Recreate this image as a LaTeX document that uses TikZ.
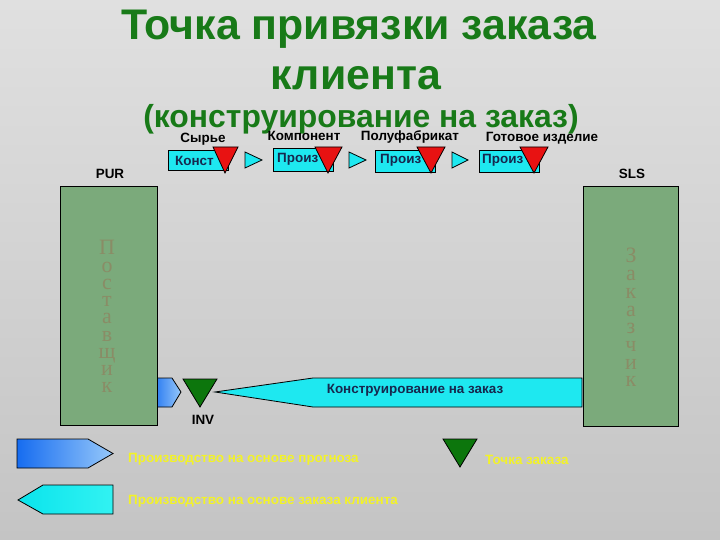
\documentclass[tikz,border=0pt]{standalone}
\usepackage{fontspec}
\setmainfont{Liberation Sans}
\newfontfamily\serifcyr{Liberation Serif}
\definecolor{titlegreen}{RGB}{24,122,24}
\definecolor{boxgreen}{RGB}{123,170,123}
\definecolor{cyanfill}{RGB}{30,232,240}
\definecolor{redfill}{RGB}{232,18,18}
\definecolor{darkgreen}{RGB}{12,118,12}
\definecolor{navytext}{RGB}{22,40,78}
\definecolor{lettercol}{RGB}{138,140,102}
\definecolor{legyellow}{RGB}{242,242,40}
\definecolor{bgtop}{RGB}{224,224,224}
\definecolor{bgbot}{RGB}{196,196,196}
\definecolor{blueA}{RGB}{22,108,240}
\definecolor{blueB}{RGB}{150,200,250}
\definecolor{cyanA}{RGB}{10,228,236}
\definecolor{cyanB}{RGB}{50,242,242}
\tikzset{
  titletxt/.style={font=\bfseries\fontsize{43}{43}\selectfont, text=titlegreen, inner sep=0, anchor=base},
  subtxt/.style={font=\bfseries\fontsize{32}{32}\selectfont, text=titlegreen, inner sep=0, anchor=base},
  lbl/.style={font=\bfseries\fontsize{13.5}{14}\selectfont, text=black, inner sep=0, anchor=base},
  procbox/.style={draw=black, line width=0.8, fill=cyanfill, minimum width=60, minimum height=21, inner sep=0, anchor=north west},
  boxtxt/.style={font=\bfseries\fontsize{13.5}{14}\selectfont, text=navytext, inner sep=0, anchor=base west},
  redtri/.style={draw=black, line width=0.8, fill=redfill},
  smallarr/.style={draw=black, line width=0.8, fill=cyanfill},
  bigbox/.style={draw=black, line width=0.8, fill=boxgreen, inner sep=0, anchor=north west},
  vletter/.style={font=\serifcyr\fontsize{22}{22}\selectfont, text=lettercol, inner sep=0, anchor=base},
  greentri/.style={draw=black, line width=0.8, fill=darkgreen},
  legtxt/.style={font=\bfseries\fontsize{13.5}{14}\selectfont, text=legyellow, inner sep=0, anchor=base west},
}
\begin{document}
\begin{tikzpicture}[x=1bp,y=-1bp]
% background
\shade[top color=bgtop, bottom color=bgbot] (0,0) rectangle (720,540);
\useasboundingbox (0,0) rectangle (720,540);

% title
\node[titletxt] (t1) at (359,40) {Точка привязки заказа};
\node[titletxt] (t2) at (356,90) {клиента};
\node[subtxt] (t3) at (361,128) {(конструирование на заказ)};

% stage labels
\node[lbl] (l1) at (203,143) {Сырье};
\node[lbl] (l2) at (304,141) {Компонент};
\node[lbl] (l3) at (410,141) {Полуфабрикат};
\node[lbl] (l4) at (542,142) {Готовое изделие};

% process boxes
\node[procbox, minimum height=20] (b1) at (168,150) {};
\node[boxtxt] (b1t) at (175,166) {Конст};
\node[procbox, minimum height=23] (b2) at (273,148) {};
\node[boxtxt] (b2t) at (277,163) {Произ};
\node[procbox, minimum height=22] (b3) at (375,150) {};
\node[boxtxt] (b3t) at (380,164) {Произ};
\node[procbox, minimum height=22] (b4) at (479,150) {};
\node[boxtxt] (b4t) at (482,164) {Произ};

% red order-point triangles
\draw[redtri] (213,147) -- (238,147) -- (225,173) -- cycle;
\draw[redtri] (315,147) -- (342,147) -- (328,173) -- cycle;
\draw[redtri] (417,147) -- (445,147) -- (431,173) -- cycle;
\draw[redtri] (520,147) -- (548,147) -- (534,173) -- cycle;

% small arrows
\draw[smallarr] (245,152) -- (262,160) -- (245,168) -- cycle;
\draw[smallarr] (349,152) -- (366,160) -- (349,168) -- cycle;
\draw[smallarr] (452,152) -- (468,160) -- (452,168) -- cycle;

% PUR / SLS labels
\node[lbl] (pur) at (110,179) {PUR};
\node[lbl] (sls) at (632,179) {SLS};

% main arrows
\shadedraw[left color=blueA, right color=blueB, draw=black, line width=0.8]
  (150,378) -- (172,378) -- (181,392) -- (172,407) -- (150,407) -- cycle;
\draw[fill=cyanfill, draw=black, line width=0.8]
  (215,392) -- (313,378) -- (582,378) -- (582,407) -- (313,407) -- cycle;
\node[lbl, text=navytext] (eto) at (415,393) {Конструирование на заказ};
\draw[greentri] (183,379) -- (217,379) -- (200,407) -- cycle;
\node[lbl] (inv) at (203,424) {INV};

% big boxes
\node[bigbox, minimum width=97, minimum height=240] (purbox) at (60,186) {};
\node[bigbox, minimum width=95, minimum height=241] (slsbox) at (583,186) {};
\foreach \ch [count=\i] in {П,о,с,т,а,в,щ,и,к}
  \node[vletter] (pl\i) at (107,{255+(\i-1)*17.2}) {\ch};
\foreach \ch [count=\i] in {З,а,к,а,з,ч,и,к}
  \node[vletter] (sl\i) at (631,{263+(\i-1)*17.7}) {\ch};

% legend
\shadedraw[left color=blueA, right color=blueB, draw=black, line width=0.8]
  (17,439) -- (88,439) -- (113,453.5) -- (88,468) -- (17,468) -- cycle;
\node[legtxt] (lg1) at (128,462) {Производство на основе прогноза};
\shadedraw[left color=cyanA, right color=cyanB, draw=black, line width=0.8]
  (18,500) -- (43,485) -- (113,485) -- (113,514) -- (43,514) -- cycle;
\node[legtxt] (lg2) at (128,504) {Производство на основе заказа клиента};
\draw[greentri] (443,439) -- (477,439) -- (460,467) -- cycle;
\node[legtxt] (lg3) at (485,464) {Точка заказа};
\end{tikzpicture}
\end{document}
